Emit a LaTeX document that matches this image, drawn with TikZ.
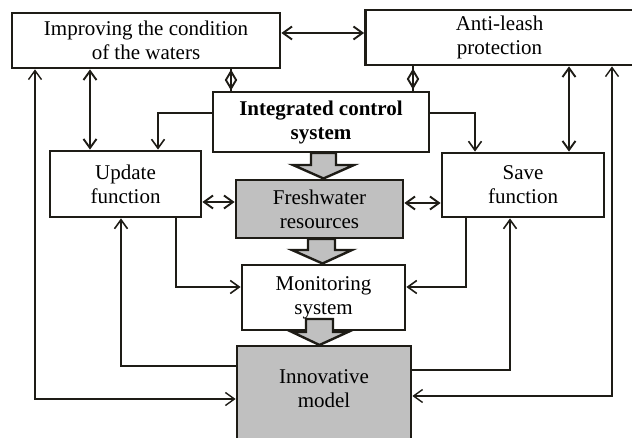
\documentclass[tikz,border=0pt]{standalone}
\usepackage{fontspec}
\setmainfont{Liberation Serif}
\usetikzlibrary{arrows.meta,shapes.geometric}
\definecolor{boxgray}{RGB}{192,192,192}
\definecolor{ink}{RGB}{30,28,22}
\begin{document}
\begin{tikzpicture}[x=1pt,y=-1pt,
  box/.style={draw=ink, line width=2.8pt, inner sep=0pt, align=center,
    font=\fontsize{21}{24}\selectfont, fill=white},
  gbox/.style={box, fill=boxgray},
  tip/.tip={Straight Barb[length=9pt,width=13pt]},
  dbl/.style={draw=ink, line width=1.9pt, tip-tip},
  sgl/.style={draw=ink, line width=1.6pt, -tip},
  outer/.style={draw=ink, line width=1.4pt, tip-tip},
  plain/.style={draw=ink, line width=1.6pt},
  diam/.style={diamond, draw=ink, line width=1.9pt, inner sep=0pt,
    minimum width=11pt, minimum height=18pt, aspect=0.6},
  blockarrow/.style={draw=ink, line width=2.4pt, fill=boxgray, line join=miter}
]
\useasboundingbox (0,0) rectangle (632,438);

% boxes
\node[box, minimum width=268pt, minimum height=55pt] (imp) at (146,40.5)
  {Improving the condition\\of the waters};
\node[box, minimum width=268pt, minimum height=55pt] (anti) at (499.5,37.5)
  {Anti-leash\\protection};
\node[box, minimum width=216pt, minimum height=60pt, font=\fontsize{21}{24}\selectfont\bfseries] (ics) at (321,122)
  {Integrated control\\system};
\node[box, minimum width=151pt, minimum height=66pt] (upd) at (125.5,184)
  {Update\\function};
\node[box, minimum width=162pt, minimum height=64pt] (sav) at (523,185)
  {Save\\function};
\node[gbox, minimum width=167pt, minimum height=58pt] (fw) at (319.5,209)
  {Freshwater\\resources};
\node[box, minimum width=163pt, minimum height=65pt] (mon) at (323.5,297.5)
  {Monitoring\\system};
\node[gbox, minimum width=174pt, minimum height=96pt] (inn) at (324,394) {};
\node[align=center, inner sep=0pt, font=\fontsize{21}{24}\selectfont] (innt) at (324,389)
  {Innovative\\model};

% block arrows
\draw[blockarrow] (311,153) -- (336,153) -- (336,165) -- (354,165) -- (323.5,178.5)
  -- (293,165) -- (311,165) -- cycle;
\draw[blockarrow] (308,239) -- (335,239) -- (335,250) -- (352,250) -- (322.5,263.5)
  -- (292,250) -- (308,250) -- cycle;
\draw[blockarrow] (306,319) -- (333,319) -- (333,332) -- (348,332) -- (319.5,345)
  -- (292,332) -- (306,332) -- cycle;

% diamonds between top boxes and control system
\node[diam] (d1) at (231,80) {};
\node[diam] (d2) at (413,79) {};
\draw[plain] (d1 |- imp.south) -- (d1 |- ics.north);
\draw[plain] (d2 |- anti.south) -- (d2 |- ics.north);

% connectors
\draw[dbl] (imp.east |- 0,33) -- (anti.west |- 0,33);
\draw[dbl] (imp.south -| 90,0) -- (upd.north -| 90,0);
\draw[dbl] (anti.south -| 569,0) -- (sav.north -| 569,0);
\draw[sgl] (ics.west |- 0,113) -| (upd.north -| 158,0);
\draw[sgl] (ics.east |- 0,113) -| (sav.north -| 475,0);
\draw[dbl] (upd.east |- 0,202) -- (fw.west |- 0,202);
\draw[dbl] (sav.west |- 0,203) -- (fw.east |- 0,203);
\draw[sgl] (upd.south -| 176,0) |- (mon.west |- 0,287);
\draw[sgl] (sav.south -| 466,0) |- (mon.east |- 0,287);
\draw[sgl] (inn.west |- 0,366) -| (upd.south -| 121,0);
\draw[sgl] (inn.east |- 0,370) -| (sav.south -| 510,0);
\draw[outer] (imp.south -| 35,0) |- (inn.west |- 0,399);
\draw[outer] (anti.south -| 612,0) |- (inn.east |- 0,396);
\end{tikzpicture}
\end{document}
